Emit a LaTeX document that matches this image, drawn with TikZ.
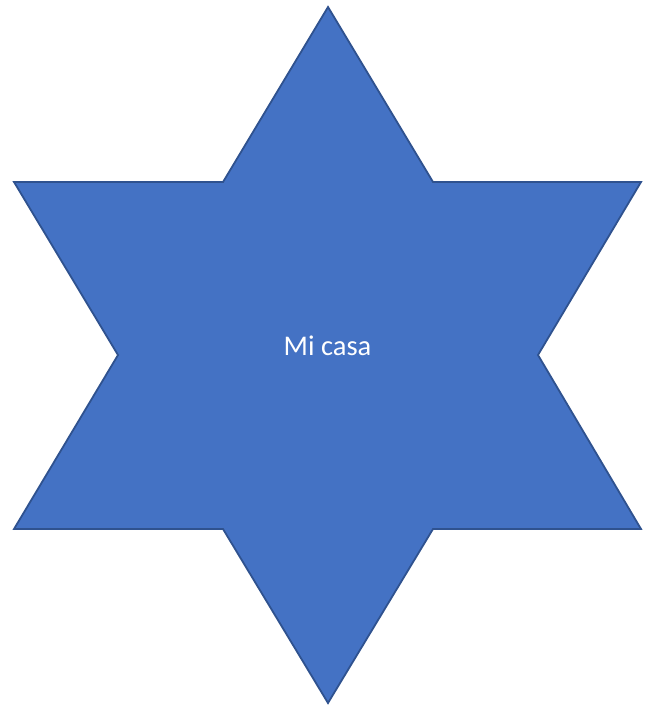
\documentclass[tikz,border=0pt]{standalone}
\usepackage{fontspec}
\setmainfont{Carlito}
\definecolor{starfill}{HTML}{4472C4}
\definecolor{staredge}{HTML}{2F528F}
\tikzset{star6/.style={fill=starfill,draw=staredge,line width=1.8pt,line join=miter},
  label6/.style={text=white,font=\fontsize{28.5}{32}\selectfont,inner sep=0pt}}
\begin{document}
\begin{tikzpicture}[x=1pt,y=-1pt]
\useasboundingbox (0,0) rectangle (652,707);
\draw[star6] (328,7) -- (433,182) -- (641,182) -- (538,355) -- (641,529) -- (433,529) -- (328,703) -- (223,529) -- (14,529) -- (118,355) -- (14,182) -- (223,182) -- cycle;
\node[label6] (t) at (327.5,346) {Mi casa};
\end{tikzpicture}
\end{document}
